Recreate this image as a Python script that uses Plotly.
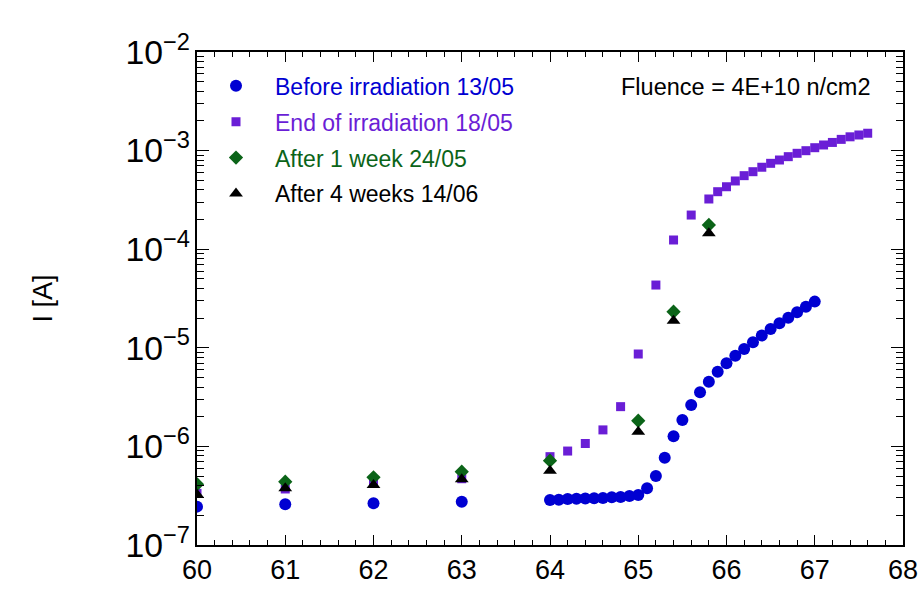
import plotly.graph_objects as go

# ---- data ----
before_x = [60, 61, 62, 63] + [round(64 + 0.1 * i, 1) for i in range(31)]
before_y = [2.45e-7, 2.59e-7, 2.65e-7, 2.75e-7,
            2.86e-7, 2.88e-7, 2.92e-7, 2.95e-7, 2.96e-7,
            2.98e-7, 3.00e-7, 3.05e-7, 3.07e-7, 3.14e-7, 3.21e-7,
            3.76e-7, 5.01e-7, 7.67e-7, 1.27e-6, 1.85e-6, 2.63e-6,
            3.54e-6, 4.53e-6, 5.72e-6, 6.97e-6, 8.32e-6, 9.73e-6,
            1.14e-5, 1.33e-5, 1.55e-5, 1.77e-5, 2.02e-5, 2.29e-5,
            2.61e-5, 2.94e-5]

end_x = [60, 61, 62, 63, 64, 64.2, 64.4, 64.6, 64.8, 65.0, 65.2, 65.4, 65.6,
         65.8, 65.9, 66.0, 66.1, 66.2, 66.3, 66.4, 66.5, 66.6, 66.7, 66.8,
         66.9, 67.0, 67.1, 67.2, 67.3, 67.4, 67.5, 67.6]
end_y = [3.34e-7, 3.7e-7, 4.28e-7, 4.7e-7, 7.87e-7, 8.97e-7, 1.07e-6, 1.47e-6,
         2.53e-6, 8.65e-6, 4.33e-5, 1.24e-4, 2.22e-4,
         3.23e-4, 3.83e-4, 4.30e-4, 4.92e-4, 5.57e-4, 6.11e-4, 6.78e-4,
         7.43e-4, 8.03e-4, 8.68e-4, 9.39e-4, 9.98e-4, 1.07e-3, 1.14e-3,
         1.21e-3, 1.30e-3, 1.38e-3, 1.44e-3, 1.50e-3]

week1_x = [60, 61, 62, 63, 64, 65.0, 65.4, 65.8]
week1_y = [4.13e-7, 4.38e-7, 4.86e-7, 5.54e-7, 7.16e-7, 1.82e-6, 2.32e-5, 1.76e-4]

week4_x = [60, 61, 62, 63, 64, 65.0, 65.4, 65.8]
week4_y = [3.25e-7, 3.76e-7, 4.07e-7, 4.63e-7, 5.67e-7, 1.41e-6, 1.88e-5, 1.45e-4]

names = ["Before irradiation 13/05", "End of irradiation 18/05",
         "After 1 week 24/05", "After 4 weeks 14/06"]
colors = ["#0000D2", "#6A1ED6", "#0B6418", "#000000"]

FONT = "Liberation Sans, Arial, sans-serif"

fig = go.Figure()
series = [
    (before_x, before_y, "circle", 12),
    (end_x, end_y, "square", 9),
    (week1_x, week1_y, "diamond", 11),
    (week4_x, week4_y, "triangle-up", 12),
]
for i, (xs, ys, sym, sz) in enumerate(series):
    fig.add_trace(go.Scatter(
        x=xs, y=ys, mode="markers",
        marker=dict(symbol=sym, size=sz, color=colors[i], line=dict(width=0)),
        name=f"<span style='color:{colors[i]}'>{names[i]}</span>",
        legendgroup=f"g{i}",
    ))

axis_common = dict(
    showline=True, linecolor="black", linewidth=1.5, mirror="ticks",
    ticks="inside", tickcolor="black", showgrid=False, zeroline=False,
    automargin=False,
    tickfont=dict(family=FONT, size=27, color="black"),
)

fig.update_xaxes(range=[60, 68], dtick=1, ticklen=10, tickwidth=1.2,
                 minor=dict(ticks="inside", dtick=0.2, ticklen=5, tickcolor="black", showgrid=False),
                 **axis_common)
fig.update_yaxes(type="log", range=[-7, -2], dtick=1, exponentformat="power",
                 ticklen=12, tickwidth=1.2,
                 minor=dict(ticks="inside", ticklen=7, tickcolor="black", showgrid=False),
                 title=dict(text="I [A]", font=dict(family=FONT, size=27, color="black"), standoff=65),
                 **axis_common)

fig.add_annotation(text="Fluence = 4E+10 n/cm2", xref="paper", yref="paper",
                   x=0.958, y=0.93, xanchor="right", yanchor="middle", showarrow=False,
                   font=dict(family=FONT, size=23.5, color="black"))

fig.update_layout(
    width=921, height=603,
    margin=dict(l=197, r=18, t=52, b=58, autoexpand=False),
    paper_bgcolor="white", plot_bgcolor="white",
    font=dict(family=FONT),
    legend=dict(x=0.0, y=0.975, xanchor="left", yanchor="top",
                font=dict(family=FONT, size=23), bgcolor="rgba(0,0,0,0)",
                itemwidth=68, tracegroupgap=3),
    showlegend=True,
)

fig.write_html("out.html",
               config={"displayModeBar": False},
               post_script="document.body.style.margin='0';document.body.style.overflow='hidden';")
